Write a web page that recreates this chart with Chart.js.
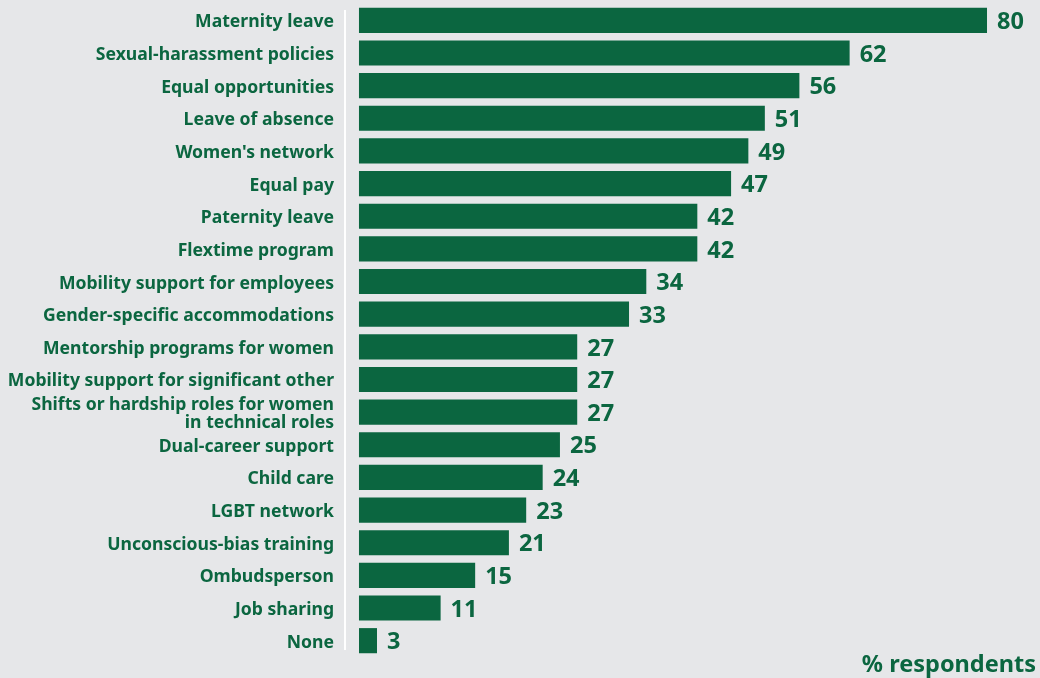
<!DOCTYPE html>
<html>
<head>
<meta charset="utf-8">
<script src="https://cdn.jsdelivr.net/npm/chart.js@4.4.1/dist/chart.umd.min.js"></script>
<style>
  html, body { margin: 0; padding: 0; background: #e6e7e9; }
  #wrap { position: relative; width: 1040px; height: 678px; }
  #note {
    position: absolute; right: 4px; bottom: -1px;
    font: 700 23.5px "Noto Sans", sans-serif; color: #0b6640;
  }
</style>
</head>
<body>
<div id="wrap">
  <canvas id="chart" width="1040" height="678"></canvas>
  <div id="note">% respondents</div>
</div>
<script>
const categories = [
    'Maternity leave',
    'Sexual-harassment policies',
    'Equal opportunities',
    'Leave of absence',
    "Women's network",
    'Equal pay',
    'Paternity leave',
    'Flextime program',
    'Mobility support for employees',
    'Gender-specific accommodations',
    'Mentorship programs for women',
    'Mobility support for significant other',
    ['Shifts or hardship roles for women', 'in technical roles'],
    'Dual-career support',
    'Child care',
    'LGBT network',
    'Unconscious-bias training',
    'Ombudsperson',
    'Job sharing',
    'None'
];
// printed percentages
const printedValues = [80, 62, 56, 51, 49, 47, 42, 42, 34, 33, 27, 27, 27, 25, 24, 23, 21, 15, 11, 3];
// bar lengths as drawn in the picture (the original art is not exactly to scale)
const barValues = [80, 62.5, 56.1, 51.7, 49.6, 47.4, 43.1, 43.1, 36.6, 34.4, 27.8, 27.8, 27.8, 25.6, 23.4, 21.3, 19.1, 14.8, 10.4, 2.3];

const green = '#0b6640';

// value labels at the end of each bar + white separator line
const valueLabels = {
    id: 'valueLabels',
    beforeDatasetsDraw(chart) {
        const ctx = chart.ctx;
        const area = chart.chartArea;
        ctx.save();
        ctx.strokeStyle = '#ffffff';
        ctx.lineWidth = 2;
        ctx.beginPath();
        ctx.moveTo(area.left, area.top + 6);
        ctx.lineTo(area.left, area.bottom - 7);
        ctx.stroke();
        ctx.restore();
    },
    afterDatasetsDraw(chart) {
        const ctx = chart.ctx;
        const meta = chart.getDatasetMeta(0);
        ctx.save();
        ctx.font = '700 23.5px "Noto Sans", sans-serif';
        ctx.fillStyle = green;
        ctx.textAlign = 'left';
        ctx.textBaseline = 'middle';
        meta.data.forEach((bar, i) => {
            ctx.fillText(printedValues[i], bar.x + 10, bar.y + 2);
        });
        ctx.restore();
    }
};

new Chart(document.getElementById('chart').getContext('2d'), {
    type: 'bar',
    data: {
        labels: categories,
        datasets: [{
            data: barValues,
            backgroundColor: green,
            borderWidth: 0,
            barPercentage: 1,
            categoryPercentage: 0.77
        }]
    },
    options: {
        indexAxis: 'y',
        responsive: false,
        animation: false,
        layout: { padding: { top: 4, bottom: 21, left: 0, right: 0 } },
        plugins: { legend: { display: false }, tooltip: { enabled: false } },
        scales: {
            x: {
                display: false,
                min: -1.78,
                max: 86.75
            },
            y: {
                afterFit(scale) {
                    scale.width = 345;
                    scale.paddingTop = 0;
                    scale.paddingBottom = 0;
                },
                grid: { display: false, drawTicks: false },
                border: { display: false },
                ticks: {
                    autoSkip: false,
                    color: green,
                    padding: 11,
                    labelOffset: 2,
                    font: { family: '"Noto Sans", sans-serif', size: 17.6, weight: '700', lineHeight: 1.0 }
                }
            }
        }
    },
    plugins: [valueLabels]
});
</script>
</body>
</html>
